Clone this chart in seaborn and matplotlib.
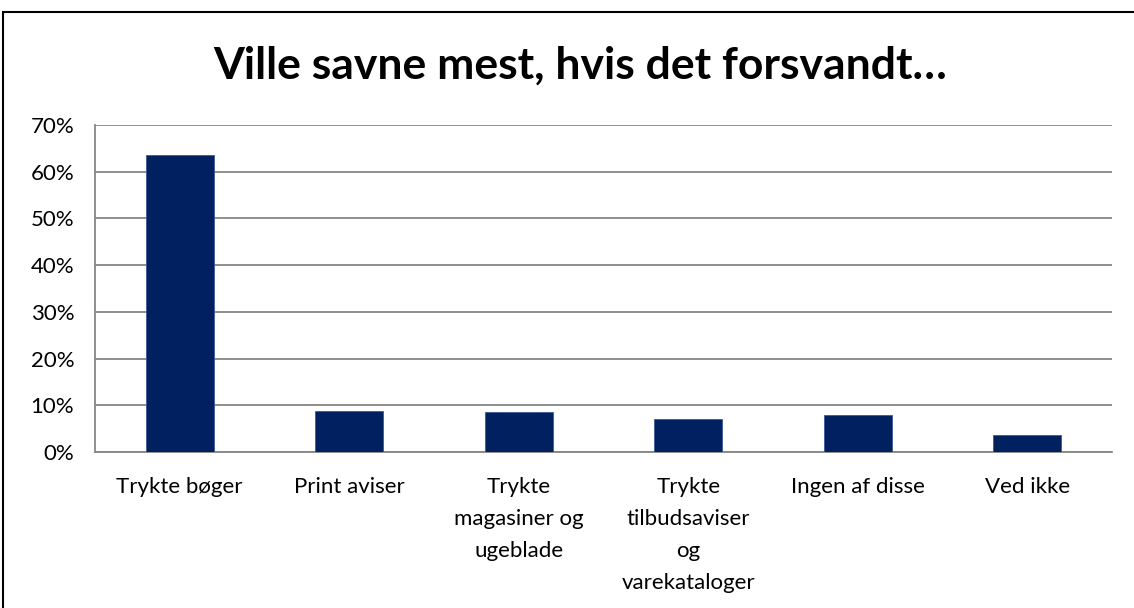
import matplotlib
matplotlib.use("Agg")
import matplotlib.pyplot as plt
import matplotlib.patches as mpatches
from matplotlib.ticker import FixedLocator, PercentFormatter
import seaborn as sns
import pandas as pd

# data
categories = ["Trykte bøger", "Print aviser", "Trykte\nmagasiner og\nugeblade",
              "Trykte\ntilbudsaviser\nog\nvarekataloger", "Ingen af disse", "Ved ikke"]
shares = [63.6, 8.8, 8.5, 7.1, 7.9, 3.6]
y_ticks = [0, 10, 20, 30, 40, 50, 60, 70]

df = pd.DataFrame({"kategori": categories, "andel": shares})

sns.set_style("white")
plt.rcParams["font.family"] = ["Lato", "DejaVu Sans"]
plt.rcParams["text.color"] = "black"

fig = plt.figure(figsize=(11.34, 6.08), dpi=100)
ax = fig.add_axes([95 / 1134, 1 - 452 / 608, (1112 - 95) / 1134, (452 - 125) / 608])

grid_col = "#868686"
sns.barplot(data=df, x="kategori", y="andel", color="#002060", width=0.4,
            saturation=1, ax=ax, zorder=3, edgecolor="#3a5a9a", linewidth=0.6)

ax.set_ylim(0, 70)
ax.set_xlim(-0.5, len(categories) - 0.5)
ax.set_yticks(y_ticks)
ax.yaxis.set_major_formatter(PercentFormatter(decimals=0))
ax.yaxis.grid(True, color=grid_col, linewidth=1.3, zorder=0)
ax.set_axisbelow(True)

# category labels in the middle, tick marks between categories
ax.tick_params(axis="x", which="major", length=0, pad=18, labelsize=16, labelcolor="black")
ax.xaxis.set_minor_locator(FixedLocator([i + 0.5 for i in range(-1, len(categories))]))
ax.tick_params(axis="x", which="minor", length=6, width=1.3, color=grid_col)
ax.tick_params(axis="y", length=6, width=1.3, color=grid_col, labelsize=16,
               labelcolor="black", pad=9)
for lbl in ax.get_xticklabels():
    lbl.set_linespacing(1.74)
    lbl.set_verticalalignment("top")

for side in ["top", "right"]:
    ax.spines[side].set_visible(False)
for side in ["left", "bottom"]:
    ax.spines[side].set_color(grid_col)
    ax.spines[side].set_linewidth(1.3)

ax.set_xlabel("")
ax.set_ylabel("")

fig.text(580 / 1134, 1 - 66 / 608, "Ville savne mest, hvis det forsvandt…",
         ha="center", va="center", fontsize=32, fontweight="bold", color="black")

# outer chart frame (right and bottom edges fall outside the picture)
frame = mpatches.Rectangle((3 / 1134, -0.05), 1.05, 1.05 - 12 / 608,
                           transform=fig.transFigure, fill=False,
                           edgecolor="black", linewidth=1.5)
fig.patches.append(frame)

fig.savefig("out.png", dpi=100)
